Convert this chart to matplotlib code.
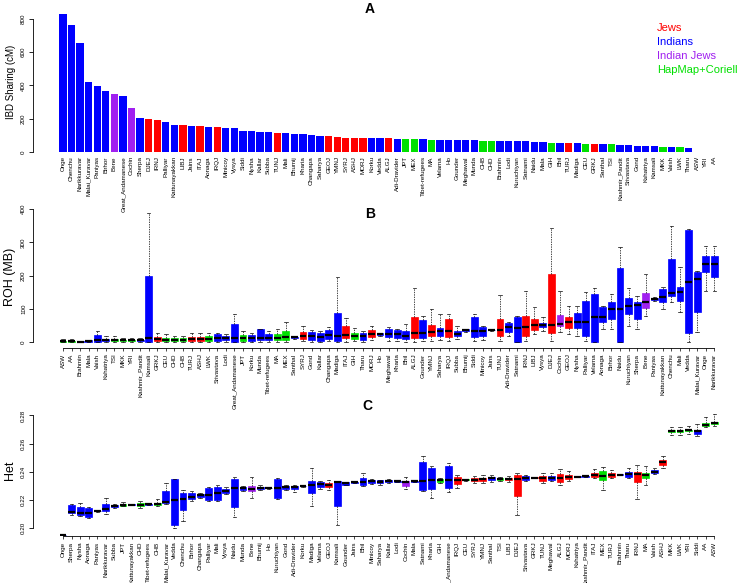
import matplotlib
matplotlib.use('Agg')
from matplotlib import pyplot as plt

plt.rcParams['font.family'] = ['Liberation Sans', 'DejaVu Sans']

W, H = 740, 583

# colour groups
jews = ['DJEJ', 'IRNJ', 'LIBJ', 'ITAJ', 'IRQJ', 'TUNJ', 'GEOJ', 'YMNJ', 'SYRJ', 'ASHJ',
        'MORJ', 'ALGJ', 'TURJ', 'GRKJ']
indian_jews = ['Bene', 'Cochin']
hapmap = ['JPT', 'MEX', 'MA', 'CHB', 'CHD', 'GIH', 'CEU', 'TSI', 'MKK', 'LWK', 'ASW', 'YRI', 'AA']
legend_labels = ['Jews', 'Indians', 'Indian Jews', 'HapMap+Coriell']
legend_colors = ['#ff0000', '#0000ff', '#a020f0', '#00e000']

# panel A: IBD sharing
names_a = ['Onge', 'Chenchu', 'Narikkuravar', 'Malai_Kuravar', 'Paniyas', 'Birhor', 'Bene',
           'Great_Andamanese', 'Cochin', 'Sherpa', 'DJEJ', 'IRNJ', 'Palliyar', 'Kattunayakkan',
           'LIBJ', 'Jains', 'ITAJ', 'Aonaga', 'IRQJ', 'Minicoy', 'Vysya', 'Siddi', 'Nysha',
           'Kallar', 'Subba', 'TUNJ', 'Mali', 'Bhumij', 'Kharia', 'Changapa', 'Saharya', 'GEOJ',
           'YMNJ', 'SYRJ', 'ASHJ', 'MORJ', 'Korku', 'Vedda', 'ALGJ', 'Adi-Dravider', 'JPT', 'MEX',
           'Tibet-refugees', 'MA', 'Velama', 'Ho', 'Gounder', 'Meghawal', 'Munda', 'CHB', 'CHD',
           'Brahmin', 'Lodi', 'Kuruchiyan', 'Satnami', 'Naidu', 'Mala', 'GIH', 'Bhil', 'TURJ',
           'Madiga', 'CEU', 'GRKJ', 'Santhal', 'TSI', 'Kashmir_Pandit', 'Srivastava', 'Gond',
           'Kshatriya', 'Kamsali', 'MKK', 'Vaish', 'LWK', 'Tharu', 'ASW', 'YRI', 'AA']
ibd = [828, 766, 654, 419, 397, 367, 347, 339, 265, 206, 200, 192, 179, 164, 160, 158, 155,
       150, 148, 144, 142, 128, 124, 122, 120, 116, 116, 110, 106, 104, 96, 94, 90, 86, 86, 86,
       84, 84, 82, 80, 78, 78, 76, 74, 72, 72, 70, 70, 70, 68, 68, 66, 66, 64, 64, 60, 58, 54,
       52, 52, 52, 50, 50, 46, 46, 42, 40, 36, 36, 34, 32, 32, 28, 26, 3, 3, 3]

# panel B: ROH boxplots
names_b = ['ASW', 'AA', 'Brahmin', 'Mala', 'Vaish', 'Kshatriya', 'TSI', 'MKK', 'YRI',
           'Kashmir_Pandit', 'Kamsali', 'GRKJ', 'CEU', 'CHD', 'CHB', 'TURJ', 'ASHJ', 'LWK',
           'Srivastava', 'Lodi', 'Great_Andamanese', 'JPT', 'Korku', 'Munda', 'Tibet-refugees',
           'MA', 'MEX', 'Santhal', 'SYRJ', 'Gond', 'Kallar', 'Changapa', 'Madiga', 'ITAJ', 'GIH',
           'Tharu', 'MORJ', 'Ho', 'Meghawal', 'Kharia', 'Bhil', 'ALGJ', 'Gounder', 'YMNJ',
           'Saharya', 'IRQJ', 'Subba', 'Bhumij', 'Siddi', 'Minicoy', 'Jains', 'TUNJ',
           'Adi-Dravider', 'Satnami', 'IRNJ', 'LIBJ', 'Vysya', 'DJEJ', 'Cochin', 'GEOJ', 'Nysha',
           'Palliyar', 'Velama', 'Aonaga', 'Birhor', 'Naidu', 'Kuruchiyan', 'Sherpa', 'Bene',
           'Paniyas', 'Kattunayakkan', 'Chenchu', 'Mali', 'Vedda', 'Malai_Kuravar', 'Onge',
           'Narikkuravar']
roh_lo = [0, 0, 0, 0, 0, 0, 0, 1, 1, 1, 0, 1, 1, 1, 1, 1, 1, 1, 0, 2, 0, 0, 0, 2, 2, 1, 1, 10,
          3, 2, 0, 3, 0, 2, 3, 2, 6, 20, 5, 4, 2, 2, 3, 5, 8, 5, 10, 32, 5, 8, 33, 5, 20, 0, 5,
          25, 35, 5, 30, 25, 20, 5, 0, 40, 40, 0, 50, 40, 80, 125, 100, 120, 92, 0, 30, 155, 155]
roh_q1 = [1, 1, 1, 2, 2, 3, 3, 4, 4, 4, 2, 5, 5, 5, 5, 5, 5, 5, 4, 6, 2, 4, 4, 8, 8, 6, 6, 13,
          10, 8, 3, 10, 5, 12, 10, 8, 15, 23, 15, 14, 10, 12, 14, 18, 20, 16, 20, 35, 15, 18, 36,
          18, 32, 0, 20, 38, 46, 29, 50, 42, 44, 20, 0, 62, 70, 0, 85, 70, 103, 128, 120, 140,
          125, 27, 90, 210, 195]
roh_med = [3, 3, 2, 4, 8, 6, 6, 6, 6, 6, 12, 10, 8, 8, 8, 10, 10, 10, 12, 12, 12, 12, 12, 14,
           14, 14, 16, 15, 18, 18, 15, 22, 20, 22, 18, 18, 25, 25, 25, 24, 20, 29, 27, 32, 34,
           34, 26, 37, 34, 34, 37, 37, 47, 44, 47, 52, 52, 53, 55, 60, 60, 62, 75, 75, 100, 100,
           110, 112, 120, 130, 137, 147, 152, 182, 190, 235, 235]
roh_q3 = [5, 5, 3, 6, 21, 10, 10, 8, 8, 8, 199, 17, 12, 12, 12, 17, 17, 18, 24, 18, 55, 21, 21,
          39, 26, 26, 34, 17, 31, 31, 29, 37, 89, 49, 29, 29, 37, 27, 39, 36, 34, 77, 67, 51, 44,
          70, 34, 39, 77, 47, 38, 71, 59, 77, 79, 69, 59, 206, 81, 75, 87, 125, 144, 105, 122,
          224, 134, 122, 147, 133, 160, 249, 165, 337, 210, 260, 260]
roh_hi = [10, 10, 5, 8, 35, 19, 19, 14, 14, 14, 387, 29, 25, 20, 20, 27, 27, 27, 27, 25, 84,
          33, 28, 40, 33, 39, 61, 19, 48, 37, 35, 47, 197, 73, 42, 35, 49, 29, 46, 40, 55, 162,
          80, 99, 85, 85, 48, 41, 85, 50, 40, 142, 62, 80, 154, 105, 77, 342, 154, 110, 110, 150,
          164, 109, 145, 285, 164, 140, 204, 135, 165, 349, 225, 340, 215, 290, 290]

# panel C: heterozygosity boxplots
names_c = ['Onge', 'Sherpa', 'Nysha', 'Aonaga', 'Paniyas', 'Narikkuravar', 'Subba', 'JPT',
           'Kattunayakkan', 'CHD', 'Tibet-refugees', 'CHB', 'Malai_Kuravar', 'Vedda', 'Chenchu',
           'Birhor', 'Changapa', 'Palliyar', 'Mali', 'Vysya', 'Naidu', 'Munda', 'Bene', 'Bhumij',
           'Ho', 'Kuruchiyan', 'Gond', 'Adi-Dravider', 'Korku', 'Madiga', 'Velama', 'GEOJ',
           'Kamsali', 'Gounder', 'Jains', 'Bhil', 'Minicoy', 'Saharya', 'Kallar', 'Lodi',
           'Cochin', 'Mala', 'Satnami', 'Kharia', 'GIH', 'Great_Andamanese', 'IRQJ', 'CEU',
           'SYRJ', 'YMNJ', 'Santhal', 'TSI', 'LIBJ', 'DJEJ', 'Srivastava', 'GRKJ', 'TUNJ',
           'Meghawal', 'ALGJ', 'MORJ', 'Kshatriya', 'Kashmir_Pandit', 'ITAJ', 'MEX', 'TURJ',
           'Brahmin', 'Tharu', 'IRNJ', 'MA', 'Vaish', 'ASHJ', 'MKK', 'LWK', 'YRI', 'Siddi', 'AA',
           'ASW']
het_lo = [0.1955, 0.2095, 0.2085, 0.2075, 0.2118, 0.2100, 0.2145, 0.2155, 0.2163, 0.2143,
          0.2167, 0.2155, 0.2170, 0.2000, 0.2050, 0.2195, 0.2218, 0.2195, 0.2195, 0.2245,
          0.2078, 0.2265, 0.2214, 0.2270, 0.2282, 0.2210, 0.2275, 0.2255, 0.2296, 0.2155,
          0.2280, 0.2270, 0.2020, 0.2305, 0.2321, 0.2300, 0.2315, 0.2310, 0.2318, 0.2330,
          0.2280, 0.2327, 0.2265, 0.2214, 0.2320, 0.2260, 0.2285, 0.2335, 0.2320, 0.2320,
          0.2330, 0.2335, 0.2330, 0.2097, 0.2335, 0.2355, 0.2320, 0.2335, 0.2310, 0.2335,
          0.2362, 0.2365, 0.2355, 0.2275, 0.2355, 0.2376, 0.2360, 0.2210, 0.2310, 0.2385,
          0.2430, 0.2660, 0.2660, 0.2670, 0.2655, 0.2715, 0.2725]
het_q1 = [0.1955, 0.2106, 0.2094, 0.2081, 0.2120, 0.2123, 0.2150, 0.2160, 0.2165, 0.2155,
          0.2168, 0.2165, 0.2178, 0.2020, 0.2127, 0.2205, 0.2225, 0.2200, 0.2200, 0.2250,
          0.2153, 0.2270, 0.2262, 0.2278, 0.2283, 0.2218, 0.2280, 0.2280, 0.2298, 0.2250,
          0.2290, 0.2292, 0.2155, 0.2310, 0.2323, 0.2310, 0.2322, 0.2318, 0.2325, 0.2331,
          0.2300, 0.2330, 0.2272, 0.2278, 0.2325, 0.2285, 0.2317, 0.2340, 0.2335, 0.2335,
          0.2340, 0.2340, 0.2340, 0.2232, 0.2345, 0.2357, 0.2338, 0.2345, 0.2331, 0.2350,
          0.2364, 0.2367, 0.2367, 0.2345, 0.2367, 0.2378, 0.2367, 0.2331, 0.2360, 0.2390,
          0.2452, 0.2681, 0.2681, 0.2688, 0.2672, 0.2726, 0.2738]
het_med = [0.1955, 0.2113, 0.2105, 0.2105, 0.2123, 0.2140, 0.2155, 0.2165, 0.2167, 0.2167,
           0.2170, 0.2170, 0.2185, 0.2200, 0.2208, 0.2220, 0.2233, 0.2233, 0.2250, 0.2264,
           0.2285, 0.2285, 0.2282, 0.2285, 0.2285, 0.2285, 0.2290, 0.2292, 0.2300, 0.2310,
           0.2312, 0.2310, 0.2331, 0.2318, 0.2325, 0.2330, 0.2333, 0.2328, 0.2335, 0.2333,
           0.2331, 0.2333, 0.2338, 0.2340, 0.2340, 0.2340, 0.2345, 0.2343, 0.2345, 0.2350,
           0.2355, 0.2350, 0.2350, 0.2350, 0.2358, 0.2360, 0.2360, 0.2358, 0.2360, 0.2367,
           0.2367, 0.2370, 0.2380, 0.2370, 0.2380, 0.2380, 0.2388, 0.2388, 0.2375, 0.2400,
           0.2467, 0.2688, 0.2688, 0.2694, 0.2690, 0.2735, 0.2748]
het_q3 = [0.1955, 0.2165, 0.2149, 0.2143, 0.2126, 0.2172, 0.2167, 0.2170, 0.2169, 0.2178,
          0.2172, 0.2178, 0.2265, 0.2352, 0.2253, 0.2250, 0.2240, 0.2284, 0.2296, 0.2278,
          0.2352, 0.2290, 0.2300, 0.2296, 0.2287, 0.2352, 0.2300, 0.2300, 0.2302, 0.2338,
          0.2330, 0.2324, 0.2338, 0.2325, 0.2327, 0.2355, 0.2343, 0.2340, 0.2343, 0.2335,
          0.2335, 0.2336, 0.2472, 0.2430, 0.2350, 0.2445, 0.2363, 0.2346, 0.2360, 0.2360,
          0.2367, 0.2355, 0.2360, 0.2378, 0.2370, 0.2363, 0.2373, 0.2372, 0.2388, 0.2380,
          0.2370, 0.2373, 0.2395, 0.2405, 0.2395, 0.2382, 0.2398, 0.2402, 0.2390, 0.2410,
          0.2481, 0.2695, 0.2695, 0.2700, 0.2700, 0.2747, 0.2757]
het_hi = [0.1955, 0.2170, 0.2180, 0.2150, 0.2128, 0.2214, 0.2175, 0.2185, 0.2172, 0.2195,
          0.2174, 0.2210, 0.2324, 0.2352, 0.2270, 0.2262, 0.2250, 0.2290, 0.2305, 0.2290,
          0.2363, 0.2298, 0.2367, 0.2305, 0.2289, 0.2360, 0.2305, 0.2310, 0.2305, 0.2430,
          0.2338, 0.2343, 0.2338, 0.2330, 0.2330, 0.2395, 0.2350, 0.2345, 0.2348, 0.2337,
          0.2367, 0.2340, 0.2515, 0.2445, 0.2360, 0.2465, 0.2380, 0.2352, 0.2370, 0.2375,
          0.2375, 0.2365, 0.2370, 0.2390, 0.2380, 0.2366, 0.2395, 0.2390, 0.2420, 0.2405,
          0.2372, 0.2378, 0.2420, 0.2435, 0.2410, 0.2384, 0.2430, 0.2450, 0.2445, 0.2430,
          0.2510, 0.2720, 0.2720, 0.2725, 0.2740, 0.2790, 0.2810]


def color_of(name):
    if name in jews:
        return legend_colors[0]
    if name in indian_jews:
        return legend_colors[2]
    if name in hapmap:
        return legend_colors[3]
    return legend_colors[1]


def px_axes(fig, left, top, right, bottom):
    ax = fig.add_axes([left / W, 1 - bottom / H, (right - left) / W, (bottom - top) / H])
    ax.patch.set_visible(False)  # long labels from the panel above run into this one
    return ax


def r_style(ax):
    for s in ['top', 'right']:
        ax.spines[s].set_visible(False)
    ax.spines['left'].set_linewidth(0.6)
    ax.spines['bottom'].set_linewidth(0.6)
    ax.tick_params(axis='y', labelsize=4.5, width=0.6, length=3, pad=2, labelrotation=90)
    for t in ax.get_yticklabels():
        t.set_va('center')


def draw_box(ax, names, lo, q1, med, q3, hi):
    stats = []
    for i in range(len(names)):
        stats.append({'whislo': lo[i], 'q1': q1[i], 'med': med[i], 'q3': q3[i],
                      'whishi': hi[i], 'label': names[i]})
    pos = list(range(len(names)))
    res = ax.bxp(stats, positions=pos, widths=0.8, patch_artist=True, showfliers=False,
                 capwidths=0.4, manage_ticks=False,
                 boxprops=dict(linewidth=0.5),
                 whiskerprops=dict(linewidth=0.5, linestyle=(0, (2, 1.5)), color='black'),
                 capprops=dict(linewidth=0.5, color='black'),
                 medianprops=dict(linewidth=1.6, color='black', solid_capstyle='butt'))
    for b, n in zip(res['boxes'], names):
        c = color_of(n)
        b.set_facecolor(c)
        b.set_edgecolor(c)
    ax.set_xticks(pos)
    ax.set_xticklabels(names, rotation=90, fontsize=4.5)
    ax.tick_params(axis='x', length=2.5, width=0.5, pad=1.5)
    ax.spines['bottom'].set_bounds(0, len(names) - 1)
    ax.set_xlim(-3.5, 77.25)


fig = plt.figure(figsize=(W / 100, H / 100), dpi=100)

# A
axA = px_axes(fig, 33, 12, 725, 152)
xa = list(range(len(names_a)))
axA.bar(xa, ibd, width=0.85, color=[color_of(n) for n in names_a], edgecolor='none')
axA.set_xlim(-3.5, 77.25)
axA.set_ylim(0, 842)
r_style(axA)
axA.spines['bottom'].set_visible(False)
axA.spines['left'].set_bounds(0, 800)
axA.set_yticks([0, 200, 400, 600, 800])
axA.set_xticks(xa)
axA.set_xticklabels(names_a, rotation=90, fontsize=4.5)
axA.tick_params(axis='x', length=0, pad=3)
axA.set_ylabel('IBD Sharing (cM)', fontsize=7, labelpad=4)
for k in range(4):
    fig.text(657 / W, 1 - (28 + 14 * k) / H, legend_labels[k], color=legend_colors[k],
             fontsize=8, va='center', ha='left')

# B
axB = px_axes(fig, 33, 205, 725, 348)
draw_box(axB, names_b, roh_lo, roh_q1, roh_med, roh_q3, roh_hi)
axB.set_ylim(-17, 412)
r_style(axB)
axB.spines['left'].set_bounds(0, 400)
axB.set_yticks([0, 100, 200, 300, 400])
axB.set_ylabel('ROH (MB)', fontsize=9, labelpad=4)

# C
axC = px_axes(fig, 33, 405, 725, 536)
draw_box(axC, names_c, het_lo, het_q1, het_med, het_q3, het_hi)
axC.set_ylim(0.19454, 0.28742)
r_style(axC)
axC.spines['left'].set_bounds(0.20, 0.28)
axC.set_yticks([0.20, 0.22, 0.24, 0.26, 0.28])
axC.set_yticklabels(['0.20', '0.22', '0.24', '0.26', '0.28'])
axC.set_ylabel('Het', fontsize=9, labelpad=4)

fig.text(370 / W, 1 - 9 / H, 'A', fontsize=10, fontweight='bold', ha='center', va='center')
fig.text(370 / W, 1 - 214 / H, 'B', fontsize=10, fontweight='bold', ha='center', va='center')
fig.text(367 / W, 1 - 406 / H, 'C', fontsize=10, fontweight='bold', ha='center', va='center')

fig.savefig('out.png', dpi=100)
